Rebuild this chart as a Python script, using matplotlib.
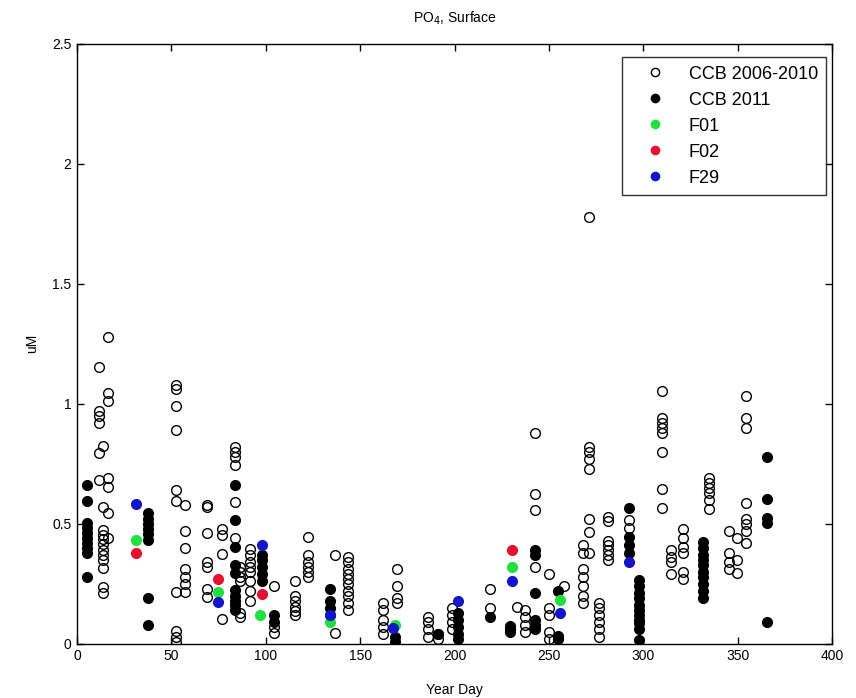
import matplotlib
matplotlib.use("Agg")
import matplotlib.pyplot as plt
import numpy as np

plt.rcParams['font.family'] = ['Liberation Sans', 'DejaVu Sans']

# ---- data (year day, PO4 uM) ----
ccb_old = {
    11.8: [1.155, 0.968, 0.95, 0.92, 0.797, 0.683],
    13.9: [0.825, 0.572, 0.475, 0.455, 0.435, 0.415, 0.39, 0.37, 0.35, 0.315, 0.239, 0.211],
    16.6: [1.28, 1.045, 1.01, 0.69, 0.655, 0.545, 0.44],
    52.5: [1.08, 1.06, 0.99, 0.89, 0.64, 0.595, 0.215, 0.055, 0.03, 0.01],
    57.2: [0.58, 0.47, 0.40, 0.31, 0.28, 0.25, 0.215],
    68.7: [0.578, 0.572, 0.46, 0.34, 0.32, 0.23, 0.195],
    76.7: [0.48, 0.452, 0.376, 0.105],
    83.7: [0.82, 0.80, 0.78, 0.745, 0.59, 0.44],
    86.4: [0.32, 0.30, 0.28, 0.26, 0.13, 0.11],
    91.7: [0.397, 0.37, 0.34, 0.32, 0.30, 0.26, 0.22, 0.18],
    104.4: [0.24, 0.07, 0.045],
    115.5: [0.26, 0.20, 0.18, 0.155, 0.135, 0.12],
    122.6: [0.447, 0.37, 0.34, 0.32, 0.30, 0.28],
    136.7: [0.37, 0.045],
    143.8: [0.36, 0.34, 0.31, 0.29, 0.27, 0.25, 0.22, 0.20, 0.17, 0.14],
    162.3: [0.17, 0.14, 0.10, 0.07, 0.04],
    169.7: [0.31, 0.24, 0.19, 0.17],
    186.2: [0.11, 0.09, 0.06, 0.03],
    191.3: [0.04, 0.02],
    198.6: [0.15, 0.12, 0.09, 0.06],
    218.9: [0.23, 0.15],
    233.2: [0.155],
    237.4: [0.14, 0.11, 0.08, 0.05],
    242.7: [0.88, 0.625, 0.557, 0.32],
    250.3: [0.29, 0.15, 0.12, 0.05, 0.02],
    258.0: [0.24],
    268.0: [0.41, 0.38, 0.31, 0.28, 0.24, 0.20, 0.17],
    271.0: [1.78, 0.82, 0.80, 0.77, 0.73, 0.52, 0.466, 0.38],
    276.3: [0.17, 0.15, 0.12, 0.09, 0.06, 0.03],
    281.3: [0.53, 0.51, 0.43, 0.41, 0.39, 0.37, 0.35],
    292.2: [0.517, 0.482],
    309.9: [1.052, 0.94, 0.92, 0.90, 0.88, 0.80, 0.646, 0.565],
    314.8: [0.39, 0.36, 0.34, 0.29],
    321.3: [0.48, 0.44, 0.405, 0.38, 0.30, 0.27],
    335.0: [0.69, 0.67, 0.65, 0.63, 0.60, 0.56],
    345.2: [0.47, 0.38, 0.34, 0.31],
    349.6: [0.44, 0.35, 0.295],
    354.5: [1.033, 0.94, 0.90, 0.586, 0.52, 0.50, 0.47, 0.42],
}

ccb_2011 = {
    5.1: [0.66, 0.597, 0.503, 0.482, 0.461, 0.44, 0.42, 0.40, 0.378, 0.28],
    37.8: [0.545, 0.52, 0.50, 0.48, 0.456, 0.433, 0.19, 0.079],
    83.7: [0.6625, 0.517, 0.405, 0.33, 0.295, 0.225, 0.20, 0.18, 0.16, 0.14],
    97.9: [0.37, 0.35, 0.32, 0.29, 0.26],
    104.4: [0.12, 0.093],
    134.0: [0.23, 0.18, 0.15, 0.12],
    168.5: [0.03, 0.01],
    191.3: [0.04],
    202.0: [0.13, 0.10, 0.07, 0.04, 0.02],
    218.9: [0.11],
    229.5: [0.075, 0.06, 0.05],
    242.7: [0.39, 0.37, 0.21, 0.10, 0.08, 0.06],
    255.0: [0.22, 0.035, 0.02],
    292.2: [0.565, 0.447, 0.41, 0.378],
    297.5: [0.267, 0.24, 0.21, 0.19, 0.16, 0.14, 0.12, 0.10, 0.086, 0.06, 0.017],
    331.9: [0.426, 0.40, 0.37, 0.35, 0.33, 0.30, 0.28, 0.25, 0.22, 0.19],
    365.5: [0.778, 0.603, 0.524, 0.505, 0.093],
}

f01_day = [31.3, 74.7, 97.0, 134.0, 168.5, 230.4, 256.0]
f01_val = [0.433, 0.218, 0.12, 0.093, 0.08, 0.322, 0.183]

f02_day = [31.3, 74.7, 97.9, 230.4]
f02_val = [0.378, 0.27, 0.208, 0.392]

f29_day = [31.3, 74.7, 97.9, 134.0, 167.6, 202.0, 230.4, 256.0, 292.2]
f29_val = [0.583, 0.176, 0.4125, 0.12, 0.068, 0.18, 0.264, 0.128, 0.343]


def flatten(d):
    xs, ys = [], []
    for k, vals in d.items():
        for v in vals:
            xs.append(k)
            ys.append(v)
    return xs, ys


fig = plt.figure(figsize=(8.56, 6.98), dpi=100)
ax = fig.add_axes([0.090, 0.0775, 0.882, 0.86])

ms = 7
x, y = flatten(ccb_old)
ax.plot(x, y, 'o', mfc='none', mec='black', mew=1.0, ms=ms, ls='none',
        label='CCB 2006-2010')
x, y = flatten(ccb_2011)
ax.plot(x, y, 'o', mfc='black', mec='black', ms=ms, ls='none', label='CCB 2011')
ax.plot(f01_day, f01_val, 'o', mfc='#1fe03c', mec='#1fe03c', ms=ms, ls='none', label='F01')
ax.plot(f02_day, f02_val, 'o', mfc='#e8102e', mec='#e8102e', ms=ms, ls='none', label='F02')
ax.plot(f29_day, f29_val, 'o', mfc='#1414c8', mec='#1414c8', ms=ms, ls='none', label='F29')

ax.set_xlim(0, 400)
ax.set_ylim(0, 2.5)
ax.set_xticks(np.arange(0, 401, 50))
ax.set_yticks([0, 0.5, 1, 1.5, 2, 2.5])
ax.set_yticklabels(['0', '0.5', '1', '1.5', '2', '2.5'])
ax.tick_params(direction='in', top=True, right=True, length=5, width=1,
               labelsize=10, pad=4)
for s in ax.spines.values():
    s.set_linewidth(1.0)

ax.set_xlabel('Year Day', fontsize=10, labelpad=14)
ax.set_ylabel('uM', fontsize=10, labelpad=9)
ax.set_title('PO$_4$, Surface', fontsize=10, pad=15)

leg = ax.legend(loc='upper right', bbox_to_anchor=(0.992, 0.977),
                fontsize=13, frameon=True, fancybox=False,
                edgecolor='black', borderaxespad=0.0, handletextpad=0.45,
                labelspacing=0.5, borderpad=0.45, handlelength=2.8,
                markerscale=0.85)
leg.get_frame().set_linewidth(1.0)

fig.savefig('out.png', dpi=100, facecolor='white')
